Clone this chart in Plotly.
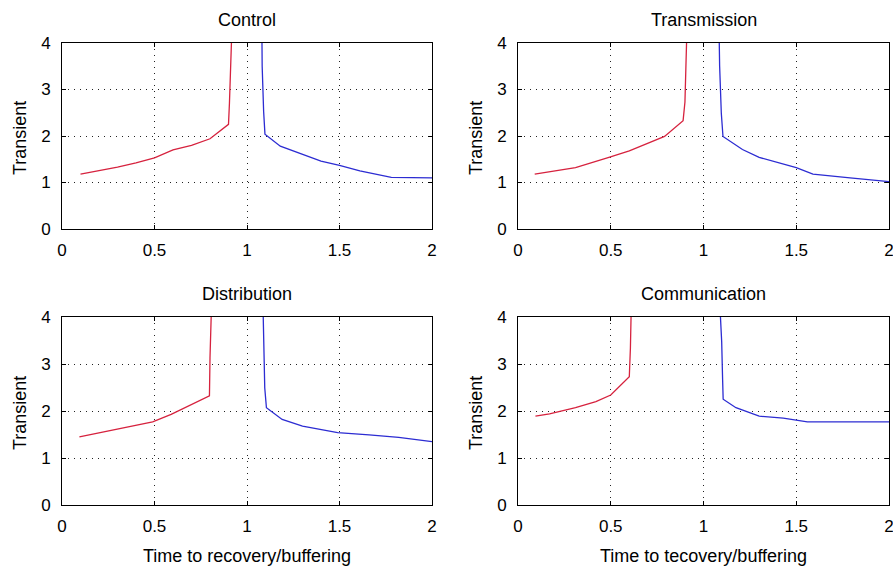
import plotly.graph_objects as go

titles = ["Control", "Transmission", "Distribution", "Communication"]
xlabels = ["Time to recovery/buffering", "Time to tecovery/buffering"]
ylabel = "Transient"
x_ticks = [0, 0.5, 1, 1.5, 2]
x_ticklabels = ["0", "0.5", "1", "1.5", "2"]
y_ticks = [0, 1, 2, 3, 4]

control_red_x = [0.1, 0.2, 0.3, 0.4, 0.5, 0.6, 0.7, 0.8, 0.9, 0.905, 0.915, 0.92]
control_red_y = [1.18, 1.25, 1.33, 1.42, 1.53, 1.70, 1.80, 1.94, 2.25, 2.7, 3.55, 4.5]
control_blue_x = [1.08, 1.082, 1.09, 1.097, 1.18, 1.25, 1.40, 1.50, 1.61, 1.78, 2.0]
control_blue_y = [4.5, 3.5, 2.52, 2.04, 1.78, 1.68, 1.46, 1.37, 1.25, 1.11, 1.10]

trans_red_x = [0.09, 0.31, 0.49, 0.6, 0.79, 0.89, 0.90, 0.906, 0.912]
trans_red_y = [1.18, 1.32, 1.54, 1.68, 1.99, 2.33, 2.73, 3.5, 4.5]
trans_blue_x = [1.083, 1.087, 1.096, 1.105, 1.21, 1.30, 1.50, 1.59, 1.79, 2.0]
trans_blue_y = [4.5, 3.5, 2.49, 1.99, 1.71, 1.54, 1.32, 1.18, 1.10, 1.02]

dist_red_x = [0.094, 0.26, 0.49, 0.59, 0.797, 0.80, 0.81]
dist_red_y = [1.45, 1.58, 1.77, 1.93, 2.32, 3.13, 4.5]
dist_blue_x = [1.085, 1.09, 1.096, 1.105, 1.19, 1.30, 1.49, 1.66, 1.82, 2.0]
dist_blue_y = [4.5, 3.48, 2.49, 2.07, 1.82, 1.68, 1.54, 1.49, 1.44, 1.35]

comm_red_x = [0.094, 0.17, 0.31, 0.42, 0.50, 0.60, 0.606, 0.612]
comm_red_y = [1.89, 1.94, 2.07, 2.20, 2.34, 2.73, 3.34, 4.5]
comm_blue_x = [1.085, 1.098, 1.103, 1.106, 1.175, 1.23, 1.30, 1.43, 1.50, 1.56, 2.0]
comm_blue_y = [4.5, 3.48, 2.67, 2.25, 2.07, 1.99, 1.89, 1.85, 1.80, 1.77, 1.77]

series = [
    (control_red_x, control_red_y, control_blue_x, control_blue_y),
    (trans_red_x, trans_red_y, trans_blue_x, trans_blue_y),
    (dist_red_x, dist_red_y, dist_blue_x, dist_blue_y),
    (comm_red_x, comm_red_y, comm_blue_x, comm_blue_y),
]

W, H = 893, 569
OFF = 0  # body margin removed by post_script below
# screen-pixel boxes: (left, right, top, bottom)
boxes = [(62, 432, 43, 229), (518, 889, 43, 229), (62, 432, 317, 505), (518, 889, 317, 505)]


def px(xs):
    return (xs - OFF) / W


def py(ys):
    return 1 - (ys - OFF) / H


RED = "#d6223e"
BLUE = "#2c2cd2"
FONT = "Liberation Sans, Arial, sans-serif"
FS = 17
FT = 18

fig = go.Figure()
layout = dict(
    width=W, height=H, margin=dict(l=0, r=0, t=0, b=0, pad=0),
    paper_bgcolor="white", plot_bgcolor="white", showlegend=False,
    font=dict(family=FONT, size=FS, color="black"),
)
annotations = []
for i, (rx, ry, bx, by) in enumerate(series):
    n = i + 1
    xa = "x" if n == 1 else f"x{n}"
    ya = "y" if n == 1 else f"y{n}"
    fig.add_trace(go.Scatter(x=rx, y=ry, mode="lines", line=dict(color=RED, width=1.3),
                             xaxis=xa, yaxis=ya, hoverinfo="skip"))
    fig.add_trace(go.Scatter(x=bx, y=by, mode="lines", line=dict(color=BLUE, width=1.3),
                             xaxis=xa, yaxis=ya, hoverinfo="skip"))
    l, r, t, b = boxes[i]
    common = dict(showline=True, linecolor="black", linewidth=1, mirror="ticks",
                  ticks="inside", ticklen=4, tickcolor="black", automargin=False,
                  ticklabeloverflow="allow",
                  showgrid=True, gridcolor="#222", griddash="1px,5px", gridwidth=1,
                  zeroline=False, tickfont=dict(family=FONT, size=FS, color="black"))
    layout["xaxis" if n == 1 else f"xaxis{n}"] = dict(
        domain=[px(l), px(r)], range=[0, 2], anchor=ya,
        tickvals=x_ticks, ticktext=x_ticklabels, ticklabelstandoff=6, **common)
    layout["yaxis" if n == 1 else f"yaxis{n}"] = dict(
        domain=[py(b), py(t)], range=[0, 4], anchor=xa,
        tickvals=y_ticks, ticklabelstandoff=7, **common)
    cx = px((l + r) / 2)
    annotations.append(dict(text=titles[i], x=cx, y=py(t - 23), xref="paper", yref="paper",
                            xanchor="center", yanchor="middle", showarrow=False,
                            font=dict(family=FONT, size=FT, color="black")))
    annotations.append(dict(text=ylabel, x=px(l - 42), y=py((t + b) / 2 + 2), xref="paper",
                            yref="paper", xanchor="center", yanchor="middle",
                            textangle=-90, showarrow=False,
                            font=dict(family=FONT, size=FT, color="black")))
    if i >= 2:
        annotations.append(dict(text=xlabels[i - 2], x=cx, y=py(556), xref="paper",
                                yref="paper", xanchor="center", yanchor="middle",
                                showarrow=False,
                                font=dict(family=FONT, size=FT, color="black")))
layout["annotations"] = annotations
fig.update_layout(**layout)
fig.write_html(
    "out.html",
    config={"displayModeBar": False},
    post_script="document.body.style.margin='0';document.body.style.overflow='hidden';",
)
